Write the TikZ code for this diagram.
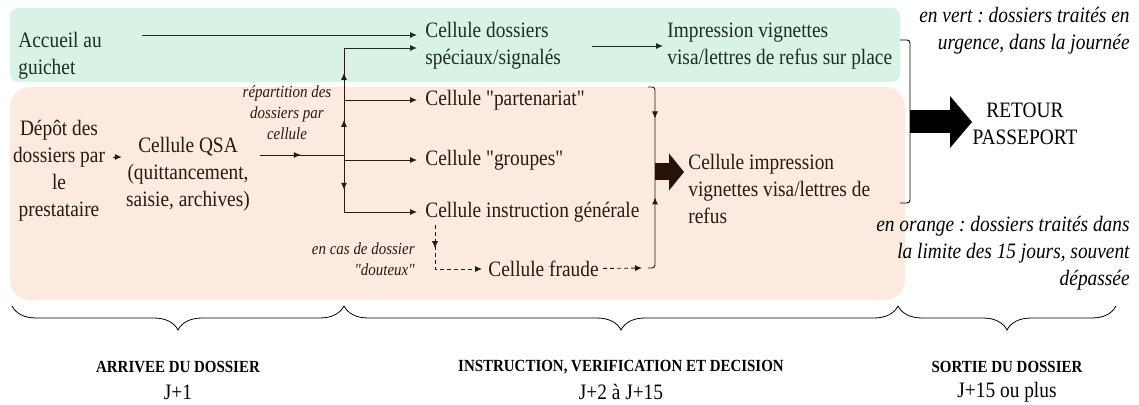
\documentclass[tikz,border=0pt]{standalone}
\usepackage{fontspec}
\setmainfont{Liberation Serif}[FakeStretch=0.88, Ligatures=TeXOff]
\usepackage{tikz}
\usetikzlibrary{arrows.meta,positioning,decorations.pathreplacing,decorations.markings}
\definecolor{bandgreen}{RGB}{216,242,229}
\definecolor{bandorange}{RGB}{252,233,223}
\definecolor{inkgreen}{RGB}{26,46,34}
\definecolor{inkbrown}{RGB}{44,24,14}
\definecolor{fatbrown}{RGB}{38,18,8}
\tikzstyle{cell} = [anchor=west, align=left, inner sep=2pt, font=\fontsize{11}{13.5}\selectfont]
\tikzstyle{note} = [anchor=east, align=right, inner sep=1pt, font=\itshape\fontsize{11}{13.5}\selectfont]
\tikzstyle{smallnote} = [inner sep=1pt, font=\itshape\fontsize{8.5}{10.5}\selectfont]
\tikzstyle{arrow} = [-{Latex[length=3.5pt,width=3pt]}, line width=0.45pt]
\tikzstyle{midarrow} = [postaction={decorate}, decoration={markings, mark=at position #1 with {\arrow{Latex[length=3.5pt,width=3pt]}}}]
\tikzstyle{bracket} = [line width=0.45pt, rounded corners=1.5pt]
\tikzstyle{fatarrow} = [line width=8.5pt, -{Triangle[length=7.5pt,width=18.5pt,line width=0pt]}]
\tikzstyle{bigarrow} = [line width=11.5pt, -{Triangle[length=11pt,width=26pt,line width=0pt]}]
\tikzstyle{period} = [decorate, decoration={brace, mirror, amplitude=12pt}, line width=0.4pt]
\tikzstyle{phase} = [inner sep=1pt, font=\bfseries\fontsize{8.5}{10}\selectfont]
\tikzstyle{days} = [inner sep=1pt, font=\fontsize{11}{13.5}\selectfont]

\begin{document}
\frenchspacing
\begin{tikzpicture}[x=0.5pt, y=-0.5pt]
\useasboundingbox (0,0) rectangle (1139,405);

% Bands
\fill[bandgreen, rounded corners=4pt] (10,8) rectangle (900,82);
\fill[bandorange, rounded corners=10pt] (10,87) rectangle (905,300);

% Urgent track
\begin{scope}[color=inkgreen]
\node[cell] (accueil) at (14,56) {Accueil au\\guichet};
\node[cell] (speciaux) at (421,46) {Cellule dossiers\\spéciaux/signalés};
\node[cell] (impr1) at (663,46) {Impression vignettes\\visa/lettres de refus sur place};
\end{scope}

% Normal track
\begin{scope}[color=inkbrown]
\node[align=center, inner sep=2pt, font=\fontsize{11}{13.5}\selectfont] (depot) at (59,171) {Dépôt des\\dossiers par\\le\\prestataire};
\node[align=center, inner sep=2pt, font=\fontsize{11}{13.5}\selectfont] (qsa) at (188,174) {Cellule QSA\\(quittancement,\\saisie, archives)};
\node[smallnote, align=center] (repart) at (287,113) {répartition des\\dossiers par\\cellule};
\node[cell] (parten) at (421,100) {Cellule "partenariat"};
\node[cell] (groupes) at (421,160) {Cellule "groupes"};
\node[cell] (instr) at (421,212) {Cellule instruction générale};
\node[cell] (fraude) at (484,269) {Cellule fraude};
\node[smallnote, anchor=east, align=right] (douteux) at (417,259) {en cas de dossier\\"douteux"};
\node[cell] (impr2) at (684,189) {Cellule impression\\vignettes visa/lettres de\\refus};
\end{scope}

% Exit and notes
\node[align=center, inner sep=2pt, font=\fontsize{11}{13.5}\selectfont] (retour) at (1025,124) {RETOUR\\PASSEPORT};
\node[note] (envert) at (1132,31) {en vert : dossiers traités en\\urgence, dans la journée};
\node[note] (enorange) at (1132,253) {en orange : dossiers traités dans\\la limite des 15 jours, souvent\\dépassée};

% Junctions
\coordinate (acc-out) at (142,35);
\coordinate (si-out) at (592,46);
\coordinate (j-spec) at (344,48);
\coordinate (j-part) at (344,100);
\coordinate (split) at (344,155);
\coordinate (j-grp) at (344,160);
\coordinate (j-ins) at (344,212);
\coordinate (dbt) at (435,225);
\coordinate (bk-tl) at (648,87);
\coordinate (bk-top) at (655,87);
\coordinate (bk-mid) at (655,172);
\coordinate (bk-bot) at (655,268);
\coordinate (bk-bl) at (648,268);
\coordinate (bk2-tl) at (900,40);
\coordinate (bk2-top) at (910,40);
\coordinate (bk2-mid) at (910,122);
\coordinate (bk2-bot) at (910,203);
\coordinate (bk2-bl) at (900,203);

% Arrows, urgent track
\draw[arrow, inkgreen, shorten >=2pt] (acc-out) -- (acc-out -| speciaux.west);
\draw[arrow, inkgreen, shorten >=2pt] (j-spec) -- (j-spec -| speciaux.west);
\draw[arrow, inkgreen] (si-out) -- (impr1);

% Arrows, normal track
\draw[arrow, inkbrown, shorten <=2pt] ([yshift=7pt]depot.east) -- ([yshift=7pt]depot.east -| qsa.west);
\draw[inkbrown, line width=0.45pt, midarrow=0.52, shorten <=3pt] (qsa.east |- split) -- (split);
\draw[inkbrown, line width=0.45pt, midarrow=0.64] (split) -- (j-part);
\draw[inkbrown, line width=0.45pt, midarrow=0.52] (j-part) -- (j-spec);
\draw[inkbrown, line width=0.45pt, midarrow=0.61] (split) -- (j-ins);
\draw[arrow, inkbrown, shorten >=2pt] (j-part) -- (parten);
\draw[arrow, inkbrown, shorten >=2pt] (j-grp) -- (j-grp -| groupes.west);
\draw[arrow, inkbrown, shorten >=2pt] (j-ins) -- (instr);
\draw[arrow, inkbrown, dashed, dash pattern=on 2pt off 1.5pt, midarrow=0.25, shorten >=1pt] (dbt) -- (dbt |- fraude) -- (fraude);
\draw[arrow, inkbrown, dashed, dash pattern=on 2pt off 1.5pt, shorten >=3pt] (fraude) -- (bk-bl);

% Collecting brackets
\draw[bracket, inkbrown, midarrow=0.41] (bk-tl) -- (bk-top) -- (bk-mid);
\draw[bracket, inkbrown, midarrow=0.75] (bk-bl) -- (bk-bot) -- (bk-mid);
\draw[fatarrow, fatbrown] (bk-mid) -- (bk-mid -| impr2.west);
\draw[bracket, black] (bk2-tl) -- (bk2-top) -- (bk2-bot) -- (bk2-bl);
\draw[bigarrow, black] (bk2-mid) -- ++(62,0);

% Periods
\coordinate (p1a) at (12,306);
\coordinate (p1b) at (344,306);
\coordinate (p2b) at (898,306);
\coordinate (p3b) at (1116,306);
\draw[period] (p1a) -- (p1b);
\draw[period] (p1b) -- (p2b);
\draw[period] (p2b) -- (p3b);
\node[phase] (ph1) at (178,367) {ARRIVEE DU DOSSIER};
\node[days] (d1) at (178,392) {J+1};
\node[phase] (ph2) at (621,367) {INSTRUCTION, VERIFICATION ET DECISION};
\node[days] (d2) at (621,392) {J+2 à J+15};
\node[phase] (ph3) at (1007,367) {SORTIE DU DOSSIER};
\node[days] (d3) at (1007,392) {J+15 ou plus};
\end{tikzpicture}
\end{document}
